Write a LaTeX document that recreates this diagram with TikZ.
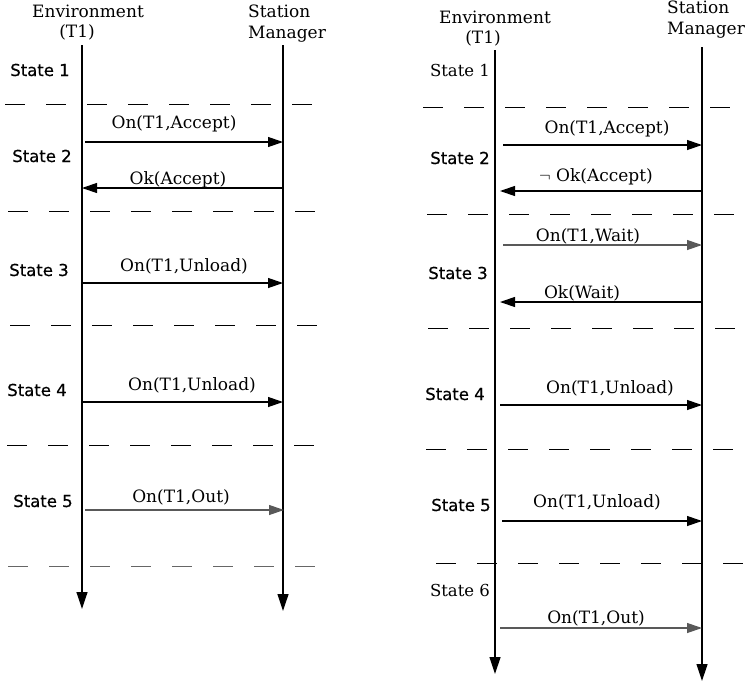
\documentclass[tikz,border=0pt]{standalone}
\usepackage{fontspec}
\setmainfont{DejaVu Serif}
\newfontfamily\statefont[FakeBold=0.6]{DejaVu Sans}
\usetikzlibrary{arrows.meta}
\tikzset{
  head/.style={font=\fontsize{17}{21}\selectfont, inner sep=0pt},
  headl/.style={font=\fontsize{17}{21}\selectfont, align=left, anchor=west, inner sep=0pt},
  statelbl/.style={font=\statefont\fontsize{16.5}{19}\selectfont, inner sep=0pt},
  statelt/.style={font=\fontsize{16.5}{19}\selectfont, inner sep=0pt},
  msg/.style={font=\fontsize{17}{20}\selectfont, inner sep=0pt},
  msgb/.style={font=\fontsize{17}{20}\selectfont, inner sep=0pt},
  life/.style={line width=1.2pt, -{Triangle[length=17pt,width=11pt]}},
  arr/.style={line width=1.2pt, -{Triangle[length=15pt,width=10pt]}},
  sep/.style={line width=1pt, dash pattern=on 20pt off 21pt},
}
\begin{document}
\begin{tikzpicture}[x=1pt,y=-1pt]
\useasboundingbox (0,0) rectangle (747,683);
% ---------- left diagram ----------
\node[head] (envL) at (88,11) {Environment};
\node[head] (envL2) at (77,32) {(T1)};
\node[headl] (smL) at (248,24) {Station\\Manager};
\coordinate (lt) at (82,45); \coordinate (lb) at (82,609);
\coordinate (rt) at (283,45); \coordinate (rb) at (283,611);
\draw[life] (lt) -- (lb);
\draw[life] (rt) -- (rb);
\node[statelbl] (s1L) at (40,70) {State 1};
\coordinate (d1a) at (5,104); \coordinate (d1b) at (315,104);
\draw[sep] (d1a) -- (d1b);
\coordinate (a1s) at (85,142); \coordinate (a1e) at (283,142);
\draw[arr] (a1s) -- (a1e);
\node[msgb] (m1L) at (174,124) {On(T1,Accept)};
\node[statelbl] (s2L) at (42,156) {State 2};
\coordinate (a2s) at (282,188); \coordinate (a2e) at (82,188);
\draw[arr] (a2s) -- (a2e);
\node[msg] (m2L) at (178,180) {Ok(Accept)};
\coordinate (d2a) at (8,211); \coordinate (d2b) at (318,211);
\draw[sep] (d2a) -- (d2b);
\node[statelbl] (s3L) at (39,270) {State 3};
\coordinate (a3s) at (82,283); \coordinate (a3e) at (283,283);
\draw[arr] (a3s) -- (a3e);
\node[msgb] (m3L) at (184,266) {On(T1,Unload)};
\coordinate (d3a) at (10,325); \coordinate (d3b) at (320,325);
\draw[sep] (d3a) -- (d3b);
\node[statelbl] (s4L) at (37,390) {State 4};
\coordinate (a4s) at (82,402); \coordinate (a4e) at (283,402);
\draw[arr] (a4s) -- (a4e);
\node[msg] (m4L) at (192,385) {On(T1,Unload)};
\coordinate (d4a) at (7,445); \coordinate (d4b) at (317,445);
\draw[sep] (d4a) -- (d4b);
\node[statelbl] (s5L) at (43,501) {State 5};
\coordinate (a5s) at (85,510); \coordinate (a5e) at (284,510);
\draw[arr, draw=black!65] (a5s) -- (a5e);
\node[msg] (m5L) at (181,497) {On(T1,Out)};
\coordinate (d5a) at (8,566); \coordinate (d5b) at (318,566);
\draw[sep, draw=black!60] (d5a) -- (d5b);
% ---------- right diagram ----------
\node[head] (envR) at (495,17) {Environment};
\node[head] (envR2) at (483,38) {(T1)};
\node[headl] (smR) at (667,20) {Station\\Manager};
\coordinate (lt2) at (495,50); \coordinate (lb2) at (495,674);
\coordinate (rt2) at (702,47); \coordinate (rb2) at (702,681);
\draw[life] (lt2) -- (lb2);
\draw[life] (rt2) -- (rb2);
\node[statelt] (s1R) at (460,70) {State 1};
\coordinate (e1a) at (423,107); \coordinate (e1b) at (733,107);
\draw[sep] (e1a) -- (e1b);
\coordinate (b1s) at (503,145); \coordinate (b1e) at (702,145);
\draw[arr] (b1s) -- (b1e);
\node[msgb] (m1R) at (607,129) {On(T1,Accept)};
\node[statelbl] (s2R) at (460,158) {State 2};
\coordinate (b2s) at (701,191); \coordinate (b2e) at (500,191);
\draw[arr] (b2s) -- (b2e);
\node[msg] (m2R) at (596,177) {$\neg$ Ok(Accept)};
\coordinate (e2a) at (427,214); \coordinate (e2b) at (737,214);
\draw[sep] (e2a) -- (e2b);
\coordinate (b3s) at (503,245); \coordinate (b3e) at (702,245);
\draw[arr, draw=black!65] (b3s) -- (b3e);
\node[msg] (m3R) at (588,236) {On(T1,Wait)};
\node[statelbl] (s3R) at (458,273) {State 3};
\coordinate (b4s) at (702,302); \coordinate (b4e) at (500,302);
\draw[arr] (b4s) -- (b4e);
\node[msg] (m4R) at (582,293) {Ok(Wait)};
\coordinate (e3a) at (428,328); \coordinate (e3b) at (738,328);
\draw[sep] (e3a) -- (e3b);
\node[statelbl] (s4R) at (455,394) {State 4};
\coordinate (b5s) at (500,405); \coordinate (b5e) at (702,405);
\draw[arr] (b5s) -- (b5e);
\node[msg] (m5R) at (610,388) {On(T1,Unload)};
\coordinate (e4a) at (426,449); \coordinate (e4b) at (736,449);
\draw[sep] (e4a) -- (e4b);
\node[statelbl] (s5R) at (461,505) {State 5};
\coordinate (b6s) at (502,521); \coordinate (b6e) at (702,521);
\draw[arr] (b6s) -- (b6e);
\node[msg] (m6R) at (597,502) {On(T1,Unload)};
\coordinate (e5a) at (436,563); \coordinate (e5b) at (746,563);
\draw[sep] (e5a) -- (e5b);
\node[statelt] (s6R) at (460,590) {State 6};
\coordinate (b7s) at (500,628); \coordinate (b7e) at (702,628);
\draw[arr, draw=black!65] (b7s) -- (b7e);
\node[msg] (m7R) at (596,618) {On(T1,Out)};
\end{tikzpicture}
\end{document}
